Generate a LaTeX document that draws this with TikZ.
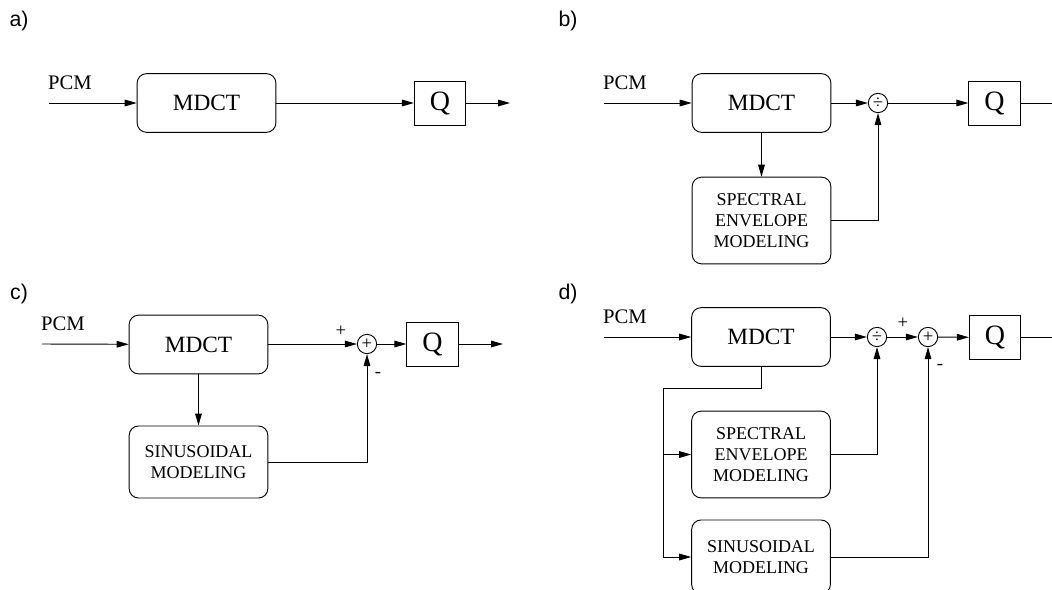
\documentclass[tikz,border=0pt]{standalone}
\usepackage{fontspec}
\setmainfont{Liberation Serif}
\newfontfamily\panelfont{Liberation Sans}
\usetikzlibrary{arrows.meta,positioning}

\begin{document}
\begin{tikzpicture}[x=.75pt,y=-.75pt,line width=.7pt,
    arr/.style={-{Triangle[length=9pt,width=5pt]}},
    blk/.style={draw,rounded corners=7pt,align=center,minimum width=104pt,
      font=\fontsize{13.5}{16}\selectfont},
    mdct/.style={blk,minimum height=44pt,font=\fontsize{17.5}{20}\selectfont},
    qbox/.style={draw,minimum width=38.5pt,minimum height=33pt,inner sep=0pt,
      font=\fontsize{21}{22}\selectfont},
    junc/.style={draw,circle,minimum size=14.5pt,inner sep=0pt,
      font=\fontsize{14}{14}\selectfont},
    pcm/.style={font=\fontsize{15.5}{16}\selectfont},
    sgn/.style={font=\fontsize{14}{14}\selectfont},
    tag/.style={font=\panelfont\fontsize{16}{18}\selectfont}]
  \useasboundingbox (0,0) rectangle (1052,589);
  \clip (0,0) rectangle (1052,589);

  % a)
  \node[tag] (tagA) at (19,21) {a)};
  \node[pcm] (pcmtA) at (70,83) {PCM};
  \coordinate (inA) at (49,103);
  \node[mdct] (mdctA) at (206.5,103) {MDCT};
  \node[qbox] (qA) at (440,103) {Q};
  \coordinate (outA) at (510,103);
  \draw[arr] (inA) -- (mdctA);
  \draw[arr] (mdctA) -- (qA);
  \draw[arr] (qA) -- (outA);

  % b)
  \node[tag] (tagB) at (568,21) {b)};
  \node[pcm] (pcmtB) at (625,83) {PCM};
  \coordinate (inB) at (604,103);
  \node[mdct] (mdctB) at (761.5,103) {MDCT};
  \node[junc] (divB) at (878,103) {÷};
  \node[qbox] (qB) at (994.5,103) {Q};
  \coordinate (outB) at (1060,103);
  \node[blk,minimum height=65pt] (specB) at (761.5,220.5)
    {SPECTRAL\\ENVELOPE\\MODELING};
  \draw[arr] (inB) -- (mdctB);
  \draw[arr] (mdctB) -- (divB);
  \draw[arr] (divB) -- (qB);
  \draw (qB) -- (outB);
  \draw[arr] (mdctB) -- (specB);
  \draw[arr] (specB.east) -| (divB.south);

  % c)
  \node[tag] (tagC) at (19,294) {c)};
  \node[pcm] (pcmtC) at (63,324) {PCM};
  \coordinate (inC) at (42,344);
  \node[mdct] (mdctC) at (198.5,344.5) {MDCT};
  \node[junc] (sumC) at (367,344) {+};
  \node[qbox] (qC) at (432.5,344) {Q};
  \coordinate (outC) at (503,344);
  \node[blk,minimum height=54pt] (sinC) at (198.5,462)
    {SINUSOIDAL\\MODELING};
  \node[sgn] (plusC) at (341,331) {+};
  \node[sgn] (minusC) at (378,375) {-};
  \draw[arr] (inC) -- (mdctC);
  \draw[arr] (mdctC.east |- sumC) -- (sumC);
  \draw[arr] (sumC) -- (qC);
  \draw[arr] (qC) -- (outC);
  \draw[arr] (mdctC) -- (sinC);
  \draw[arr] (sinC.east) -| (sumC.south);

  % d)
  \node[tag] (tagD) at (568,294) {d)};
  \node[pcm] (pcmtD) at (625,317) {PCM};
  \coordinate (inD) at (604,337);
  \node[mdct] (mdctD) at (761,337) {MDCT};
  \node[junc] (divD) at (877,337) {÷};
  \node[junc] (sumD) at (928,337) {+};
  \node[qbox] (qD) at (995,337.5) {Q};
  \coordinate (outD) at (1060,337.5);
  \node[blk,minimum height=65pt] (specD) at (761,454.5)
    {SPECTRAL\\ENVELOPE\\MODELING};
  \node[blk,minimum height=55.5pt] (sinD) at (761,557)
    {SINUSOIDAL\\MODELING};
  \node[sgn] (plusD) at (903,323) {+};
  \node[sgn] (minusD) at (940,367) {-};
  \coordinate (forkD) at (663,388);
  \draw[arr] (inD) -- (mdctD);
  \draw[arr] (mdctD) -- (divD);
  \draw[arr] (divD) -- (sumD);
  \draw[arr] (sumD) -- (qD);
  \draw (qD) -- (outD);
  \draw (mdctD.south) |- (forkD) -- (forkD |- sinD);
  \draw[arr] (forkD |- specD) -- (specD.west);
  \draw[arr] (forkD |- sinD) -- (sinD.west);
  \draw[arr] (specD.east) -| (divD.south);
  \draw[arr] (sinD.east) -| (sumD.south);
\end{tikzpicture}
\end{document}
